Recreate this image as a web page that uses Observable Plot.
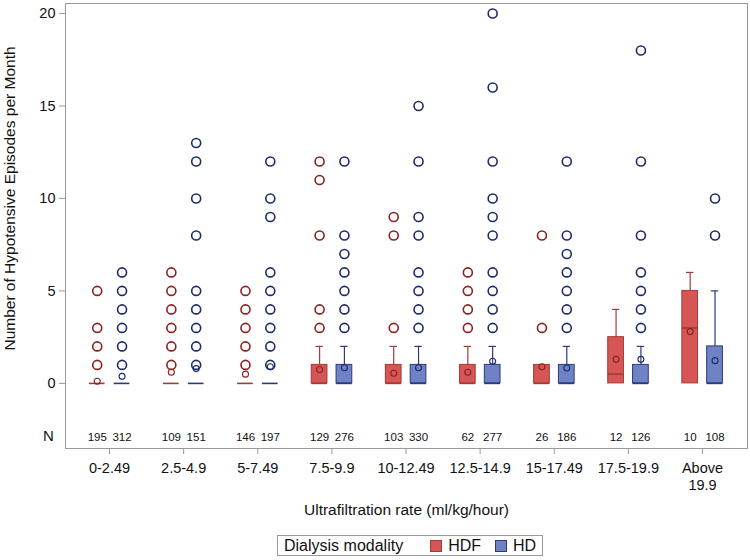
<!DOCTYPE html>
<html>
<head>
<meta charset="utf-8">
<script src="https://cdn.jsdelivr.net/npm/d3@7"></script>
<script src="https://cdn.jsdelivr.net/npm/@observablehq/plot@0.6"></script>
<style>
  body { margin: 0; background: #fff; font-family: "Liberation Sans", Arial, sans-serif; }
  #legend { display: inline-flex; align-items: center; margin-left: 277px; margin-top: 9px;
    border: 1px solid #9a9a9a; height: 21px; padding: 0 6px; font-size: 16px; color: #111; box-sizing: border-box; }
  #legend .sw { display: inline-block; width: 10px; height: 10px; margin-right: 6px; }
</style>
</head>
<body>
<div id="chart"></div>
<div id="legend"></div>
<script>
// ---- data ----
const groups = ["0-2.49","2.5-4.9","5-7.49","7.5-9.9","10-12.49","12.5-14.9","15-17.49","17.5-19.9","Above\n19.9"];
const modalities = ["HDF","HD"];

const hdfN = [195,109,146,129,103,62,26,12,10];
const hdN  = [312,151,197,276,330,277,186,126,108];

const hdfQ1      = [0,0,0,0,0,0,0,0,0];
const hdfMedian  = [0,0,0,0,0,0,0,0.5,3];
const hdfQ3      = [0,0,0,1,1,1,1,2.5,5];
const hdfWhisker = [0,0,0,2,2,2,1,4,6];
const hdfMean    = [0.12,0.6,0.5,0.75,0.55,0.6,0.9,1.3,2.8];
const hdfOutliers = [[1,2,3,5],[1,2,3,4,5,6],[1,2,3,4,5],[3,4,8,11,12],[3,8,9],[3,4,5,6],[3,8],[],[]];

const hdQ1      = [0,0,0,0,0,0,0,0,0];
const hdMedian  = [0,0,0,0,0,0,0,0,0];
const hdQ3      = [0,0,0,1,1,1,1,1,2];
const hdWhisker = [0,0,0,2,2,2,2,2,5];
const hdMean    = [0.38,0.8,0.9,0.85,0.85,1.2,0.83,1.3,1.23];
const hdOutliers = [[1,2,3,4,5,6],[1,2,3,4,5,8,10,12,13],[1,2,3,4,5,6,9,10,12],[3,4,5,6,7,8,12],
  [3,4,5,6,8,9,12,15],[3,4,5,6,8,9,10,12,16,20],[3,4,5,6,7,8,12],[3,4,5,6,8,12,18],[8,10]];

const yTicks = [0,5,10,15,20];

// ---- styling ----
const fillC  = {HDF: "#d65555", HD: "#6f82c6"};
const lineC  = {HDF: "#a53a3a", HD: "#2c3a78"};
const dotC   = {HDF: "#8a2222", HD: "#1f2a6a"};
const offset = {HDF: -0.166, HD: 0.169};
const halfW = 0.106, capW = 0.05;

// build table
const stats = [];
const outs = [];
groups.forEach((g, i) => {
  const rows = [
    {m: "HDF", n: hdfN[i], q1: hdfQ1[i], med: hdfMedian[i], q3: hdfQ3[i], hi: hdfWhisker[i], mean: hdfMean[i], o: hdfOutliers[i]},
    {m: "HD",  n: hdN[i],  q1: hdQ1[i],  med: hdMedian[i],  q3: hdQ3[i],  hi: hdWhisker[i],  mean: hdMean[i],  o: hdOutliers[i]}
  ];
  for (const r of rows) {
    const pos = i + offset[r.m];
    stats.push({...r, g: i, pos});
    for (const v of r.o) outs.push({m: r.m, pos, v});
  }
});
const whisk = stats.filter(d => d.hi > d.q3);

const chart = Plot.plot({
  width: 750, height: 526,
  marginLeft: 65, marginRight: 3, marginTop: 3, marginBottom: 78,
  style: {fontFamily: "'Liberation Sans', Arial, sans-serif", background: "#fff"},
  x: {domain: [-0.594, 8.607]},
  y: {domain: [-3.52, 20.54]},
  marks: [
    Plot.frame({stroke: "#9a9a9a"}),
    // whiskers
    Plot.ruleX(whisk, {x: "pos", y1: "q3", y2: "hi", stroke: d => lineC[d.m], strokeWidth: 1.2}),
    Plot.ruleY(whisk, {y: "hi", x1: d => d.pos - capW, x2: d => d.pos + capW, stroke: d => lineC[d.m], strokeWidth: 1.2}),
    // boxes
    Plot.rect(stats.filter(d => d.q3 > d.q1), {x1: d => d.pos - halfW, x2: d => d.pos + halfW, y1: "q1", y2: "q3",
      fill: d => fillC[d.m], stroke: d => lineC[d.m], strokeWidth: 1}),
    // medians
    Plot.ruleY(stats, {y: "med", x1: d => d.pos - halfW, x2: d => d.pos + halfW, stroke: d => lineC[d.m], strokeWidth: 1.6}),
    // means
    Plot.dot(stats, {x: "pos", y: "mean", r: 3, stroke: d => dotC[d.m], strokeWidth: 1.1, fill: "none"}),
    // outliers
    Plot.dot(outs, {x: "pos", y: "v", r: 4.5, stroke: d => dotC[d.m], strokeWidth: 1.6, fill: "none"}),
    // N row
    Plot.text(["N"], {frameAnchor: "bottom-left", dx: -17, dy: -8, fontSize: 15, fill: "#111", textAnchor: "middle"}),
    Plot.text(stats, {x: "pos", frameAnchor: "bottom", dy: -8, text: d => String(d.n), fontSize: 11.5, fill: "#111"}),
    // axes
    Plot.axisY({ticks: yTicks, tickSize: 6, tickPadding: 4, fontSize: 14.5, stroke: "#999", fill: "#111", label: null}),
    Plot.axisX({ticks: d3.range(groups.length), tickFormat: i => groups[i], tickSize: 6, tickPadding: 6,
      fontSize: 14.5, lineHeight: 1.2, stroke: "#999", fill: "#111", label: null}),
    // titles
    Plot.text(["Ultrafiltration rate (ml/kg/hour)"], {frameAnchor: "bottom", dy: 66, fontSize: 15.5, fill: "#111"}),
    Plot.text(["Number of Hypotensive Episodes per Month"], {frameAnchor: "left", dx: -55, dy: -27.5, rotate: -90,
      textAnchor: "middle", lineAnchor: "middle", fontSize: 15.5, fill: "#111"})
  ]
});
document.getElementById("chart").append(chart);

const legend = document.getElementById("legend");
legend.innerHTML = `<span style="margin-right:27px">Dialysis modality</span>` +
  modalities.map((m, k) => `<span class="sw" style="background:${fillC[m]};border:1px solid ${lineC[m]}"></span><span style="margin-right:${k === 0 ? 14 : 0}px">${m}</span>`).join("");
</script>
</body>
</html>
